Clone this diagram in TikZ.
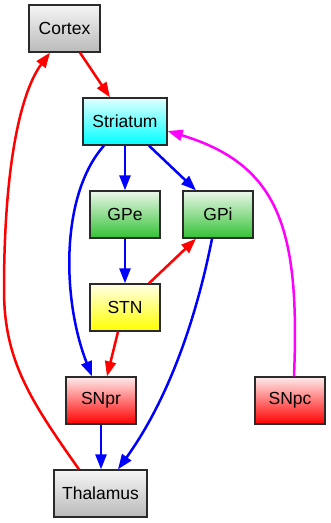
\documentclass[tikz,border=0pt]{standalone}
\usepackage{fontspec}
\setmainfont{Liberation Sans}
\usepackage{xcolor}
\usepackage{tikz}
\usetikzlibrary{arrows.meta,calc}
\definecolor{linered}{HTML}{FF0000}
\definecolor{lineblue}{HTML}{0000FF}
\definecolor{linemagenta}{HTML}{FF00FF}
\definecolor{boxedge}{HTML}{2A2A2A}
\tikzset{
  area/.style={draw=boxedge,line width=1.3pt,minimum height=47pt,inner sep=0pt,
    font=\fontsize{17.5}{20}\selectfont},
  grayarea/.style={area,top color=white!96!black,bottom color=black!27},
  cyanarea/.style={area,top color=cyan!12,bottom color=cyan},
  greenarea/.style={area,top color=green!60!black!8,bottom color=green!70!black!80},
  yellowarea/.style={area,top color=yellow!10,bottom color=yellow},
  redarea/.style={area,top color=red!8,bottom color=red},
  link/.style={line width=2.5pt,-{Triangle[length=15pt,width=11pt]}}
}
\begin{document}
\begin{tikzpicture}[x=1pt,y=-1pt]
\useasboundingbox (0,0) rectangle (330,523);
\node[grayarea,minimum width=71pt] (cortex) at (64.5,28.5){Cortex};
\node[cyanarea,minimum width=84pt] (striatum) at (125,121.5){Striatum};
\node[greenarea,minimum width=70pt] (gpe) at (125,214.5){GPe};
\node[greenarea,minimum width=70pt] (gpi) at (218,214.5){GPi};
\node[yellowarea,minimum width=70pt] (stn) at (125,307.5){STN};
\node[redarea,minimum width=70pt] (snpr) at (101,400.5){SNpr};
\node[redarea,minimum width=70pt] (snpc) at (290,400.5){SNpc};
\node[grayarea,minimum width=93pt] (thalamus) at (100.5,493.5){Thalamus};
\draw[link,linered] ([xshift=15.5pt]cortex.south)--([xshift=-15pt]striatum.north);
\draw[link,linered] ([xshift=-21.5pt]thalamus.north) .. controls (30,400) and (4,360) .. (4,290)
  .. controls (4,160) and (22,90) .. ([xshift=-14.5pt]cortex.south);
\draw[link,lineblue] (striatum.south)--(gpe.north);
\draw[link,lineblue] ([xshift=24pt]striatum.south)--([xshift=-22pt]gpi.north);
\draw[link,lineblue] ([xshift=-21pt]striatum.south) .. controls (60,195) and (62,300) .. ([xshift=-9pt]snpr.north);
\draw[link,lineblue] (gpe.south)--(stn.north);
\draw[link,linered] ([xshift=24pt]stn.north)--([xshift=-22pt]gpi.south);
\draw[link,linered] ([xshift=-7pt]stn.south)--([xshift=6pt]snpr.north);
\draw[link,lineblue] ([xshift=-6pt]gpi.south) .. controls (200,300) and (175,390) .. ([xshift=17.5pt]thalamus.north);
\draw[link,lineblue] (snpr.south)--(snpr.south|-thalamus.north);
\draw[link,linemagenta] ([xshift=4pt]snpc.north) .. controls (300,230) and (280,165) .. ([yshift=-9.5pt]striatum.east);
\end{tikzpicture}
\end{document}
